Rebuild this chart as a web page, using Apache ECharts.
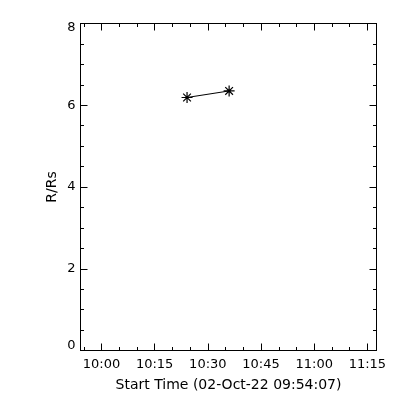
<!DOCTYPE html>
<html><head><meta charset="utf-8">
<script src="https://cdn.jsdelivr.net/npm/echarts@6/dist/echarts.min.js"></script>
<style>html,body{margin:0;padding:0;background:#fff}#c{width:400px;height:400px}</style>
</head><body><div id="c"></div>
<script>
const startTimes = ['10:24:08', '10:36:00'];
const heights = [6.19, 6.35];
const xTickLabels = ['10:00', '10:15', '10:30', '10:45', '11:00', '11:15'];
const yTickValues = [0, 2, 4, 6, 8];
const xRange = ['09:54:05', '11:17:34'];
const xTitle = 'Start Time (02-Oct-22 09:54:07)';
const yTitle = 'R/Rs';

function toMin(s) { const p = s.split(':').map(Number); return p[0] * 60 + p[1] + (p[2] || 0) / 60; }
const xMin = toMin(xRange[0]), xMax = toMin(xRange[1]);
const xMajor = xTickLabels.map(toMin);
const xMinor = [];
for (let m = Math.ceil(xMin / 5) * 5; m <= xMax; m += 5) if (m % 15 !== 0) xMinor.push(m);
const yMinor = [];
for (let v = 0.5; v < 8; v += 0.5) if (v % 2 !== 0) yMinor.push(v);
const fmt = v => { const h = Math.floor(v / 60), m = Math.round(v - h * 60); return h + ':' + String(m).padStart(2, '0'); };
const yFmt = v => v === 8 ? '{t|' + v + '}' : (v === 0 ? '{b|' + v + '}' : String(v));

const font = { fontFamily: 'DejaVu Sans', fontSize: 13, color: '#000' };
const nameFont = { fontFamily: 'DejaVu Sans', fontSize: 14, color: '#000' };
function xAx(g, pos, ticks, len, labels, line) {
  return { type: 'value', position: pos, min: xMin, max: xMax, gridIndex: g,
    axisLine: { show: line, onZero: false, lineStyle: { color: '#000', width: 1 } },
    axisTick: { show: true, inside: true, length: len, customValues: ticks, lineStyle: { color: '#000' } },
    axisLabel: labels ? Object.assign({ customValues: ticks, formatter: fmt, margin: 8 }, font) : { show: false },
    splitLine: { show: false },
    name: labels ? xTitle : '', nameLocation: 'middle', nameGap: 28, nameMoveOverlap: false, nameTextStyle: nameFont };
}
function yAx(g, pos, ticks, len, labels, line) {
  return { type: 'value', position: pos, min: 0, max: 8, gridIndex: g,
    axisLine: { show: line, onZero: false, lineStyle: { color: '#000', width: 1 } },
    axisTick: { show: true, inside: true, length: len, customValues: ticks, lineStyle: { color: '#000' } },
    axisLabel: labels ? Object.assign({ customValues: ticks, margin: 5, formatter: yFmt,
      rich: { t: Object.assign({ padding: [9, 0, 0, 0] }, font), b: Object.assign({ padding: [0, 0, 9, 0] }, font) } }, font) : { show: false },
    splitLine: { show: false },
    name: labels ? yTitle : '', nameLocation: 'middle', nameGap: 21, nameMoveOverlap: false, nameTextStyle: nameFont };
}
const gridBox = { left: 80.5, right: 23.5, top: 23.5, bottom: 49.5, containLabel: false };
const star = 'path://M0,5L10,5M5,0L5,10M1.5,1.5L8.5,8.5M1.5,8.5L8.5,1.5';
const chart = echarts.init(document.getElementById('c'), null, { renderer: 'canvas' });
chart.setOption({
  animation: false,
  backgroundColor: '#fff',
  grid: [Object.assign({}, gridBox), Object.assign({}, gridBox)],
  xAxis: [xAx(0, 'bottom', xMajor, 7, true, true), xAx(0, 'top', xMajor, 7, false, true),
          xAx(1, 'bottom', xMinor, 3.5, false, false), xAx(1, 'top', xMinor, 3.5, false, false)],
  yAxis: [yAx(0, 'left', yTickValues, 7, true, true), yAx(0, 'right', yTickValues, 7, false, true),
          yAx(1, 'left', yMinor, 3.5, false, false), yAx(1, 'right', yMinor, 3.5, false, false)],
  series: [{ type: 'line', xAxisIndex: 0, yAxisIndex: 0,
    data: startTimes.map((t, i) => [toMin(t), heights[i]]),
    symbol: star, symbolSize: 11, showSymbol: true,
    lineStyle: { color: '#000', width: 1 },
    itemStyle: { color: 'none', borderColor: '#000', borderWidth: 1.2 } }]
});
</script></body></html>
